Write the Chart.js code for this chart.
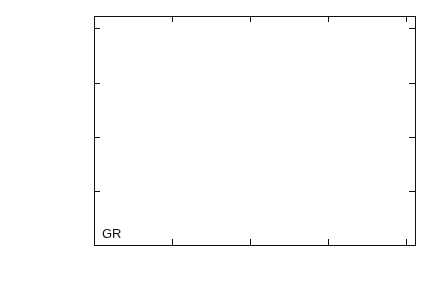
<!DOCTYPE html>
<html>
<head>
<meta charset="utf-8">
<script src="https://cdn.jsdelivr.net/npm/chart.js@4/dist/chart.umd.min.js"></script>
<style>
  html, body { margin: 0; padding: 0; background: #fff; }
  canvas { display: block; }
</style>
</head>
<body>
<canvas id="chart" width="436" height="305"></canvas>
<script>
// empty plot, only a frame with inward ticks and one label
const xTicks = [0, 1, 2, 3, 4];
const yTicks = [0, 1, 2, 3, 4];
const xRange = [0, 4.12];
const yRange = [0, 4.23];
const cornerLabel = 'GR';

const framePlugin = {
    id: 'frame',
    afterDraw(chart) {
        const ctx = chart.ctx;
        const area = chart.chartArea;
        const xs = chart.scales.x;
        const ys = chart.scales.y;
        const tl = 6;
        ctx.save();
        ctx.strokeStyle = '#111';
        ctx.lineWidth = 1;
        ctx.beginPath();
        xTicks.forEach(v => {
            const px = Math.round(xs.getPixelForValue(v)) + 0.5;
            ctx.moveTo(px, area.bottom);
            ctx.lineTo(px, area.bottom - tl);
            ctx.moveTo(px, area.top);
            ctx.lineTo(px, area.top + tl);
        });
        yTicks.forEach(v => {
            const py = Math.round(ys.getPixelForValue(v)) + 0.5;
            ctx.moveTo(area.left, py);
            ctx.lineTo(area.left + tl, py);
            ctx.moveTo(area.right, py);
            ctx.lineTo(area.right - tl, py);
        });
        ctx.stroke();
        ctx.strokeRect(Math.round(area.left) + 0.5, Math.round(area.top) + 0.5,
            Math.round(area.right - area.left), Math.round(area.bottom - area.top));
        ctx.fillStyle = '#111';
        ctx.font = '13px "Liberation Sans", Arial, sans-serif';
        ctx.textBaseline = 'alphabetic';
        ctx.fillText(cornerLabel, area.left + 8, area.bottom - 7);
        ctx.restore();
    }
};

new Chart(document.getElementById('chart').getContext('2d'), {
    type: 'scatter',
    data: {
        datasets: [{
            data: [],
            pointRadius: 0
        }]
    },
    options: {
        responsive: false,
        animation: false,
        layout: {
            padding: { left: 94, right: 21, top: 16, bottom: 60 }
        },
        plugins: {
            legend: { display: false },
            tooltip: { enabled: false }
        },
        scales: {
            x: { type: 'linear', min: xRange[0], max: xRange[1], display: false },
            y: { type: 'linear', min: yRange[0], max: yRange[1], display: false }
        }
    },
    plugins: [framePlugin]
});
</script>
</body>
</html>
